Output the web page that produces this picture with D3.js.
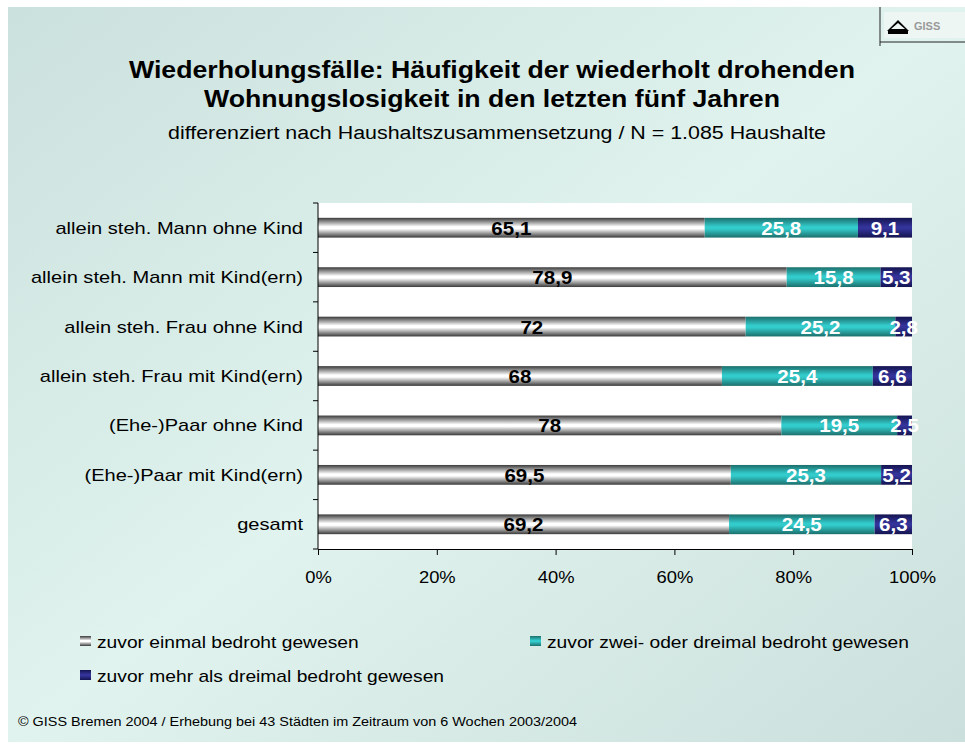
<!DOCTYPE html>
<html>
<head>
<meta charset="utf-8">
<script src="https://cdn.jsdelivr.net/npm/d3@7"></script>
<style>
  body { margin: 0; background: #fff; }
  svg { display: block; font-family: "Liberation Sans", Arial, sans-serif; }
</style>
</head>
<body>
<svg width="965" height="749"></svg>
<script>
// data, top to bottom as in the chart
var categories = ["allein steh. Mann ohne Kind", "allein steh. Mann mit Kind(ern)",
  "allein steh. Frau ohne Kind", "allein steh. Frau mit Kind(ern)",
  "(Ehe-)Paar ohne Kind", "(Ehe-)Paar mit Kind(ern)", "gesamt"];
var einmal = [65.1, 78.9, 72, 68, 78, 69.5, 69.2];
var zweiDrei = [25.8, 15.8, 25.2, 25.4, 19.5, 25.3, 24.5];
var mehr = [9.1, 5.3, 2.8, 6.6, 2.5, 5.2, 6.3];
var seriesNames = ["zuvor einmal bedroht gewesen", "zuvor zwei- oder dreimal bedroht gewesen",
  "zuvor mehr als dreimal bedroht gewesen"];
var xTicks = [0, 20, 40, 60, 80, 100];

var svg = d3.select("svg");
var defs = svg.append("defs");

// the original text is a bit wider than the font, stretch it
function stretch(sel, k) {
  sel.each(function() {
    var w = this.getComputedTextLength();
    d3.select(this).attr("textLength", w * k).attr("lengthAdjust", "spacingAndGlyphs");
  });
}

// background gradient
var bg = defs.append("linearGradient").attr("id", "bg")
  .attr("x1", "0%").attr("y1", "0%").attr("x2", "100%").attr("y2", "100%");
bg.append("stop").attr("offset", "0%").attr("stop-color", "#cbe1dd");
bg.append("stop").attr("offset", "50%").attr("stop-color", "#e0f3ee");
bg.append("stop").attr("offset", "100%").attr("stop-color", "#cbdfdc");

// bar gradients (vertical banding)
function barGrad(id, edge, mid) {
  var g = defs.append("linearGradient").attr("id", id)
    .attr("x1", "0").attr("y1", "0").attr("x2", "0").attr("y2", "1");
  g.append("stop").attr("offset", "0%").attr("stop-color", edge);
  g.append("stop").attr("offset", "45%").attr("stop-color", mid);
  g.append("stop").attr("offset", "55%").attr("stop-color", mid);
  g.append("stop").attr("offset", "100%").attr("stop-color", edge);
}
barGrad("g0", "#3a3a3a", "#ffffff");
barGrad("g1", "#1c6f6c", "#33cccc");
barGrad("g2", "#141450", "#33339a");
var fills = ["url(#g0)", "url(#g1)", "url(#g2)"];
var labelColors = ["#000", "#fff", "#fff"];

svg.append("rect").attr("x", 8).attr("y", 7).attr("width", 957).attr("height", 735)
  .attr("fill", "url(#bg)");

// logo
svg.append("line").attr("x1", 880).attr("x2", 965).attr("y1", 42).attr("y2", 42).attr("stroke", "#222");
svg.append("line").attr("x1", 880).attr("x2", 880).attr("y1", 7).attr("y2", 46).attr("stroke", "#222");
svg.append("rect").attr("x", 884).attr("y", 12).attr("width", 81).attr("height", 26).attr("fill", "#eef6f4");
svg.append("path").attr("d", "M887,31 L898,20 L909,31 Z M891,29 L898,23 L905,29 Z")
  .attr("fill", "#000").attr("fill-rule", "evenodd");
svg.append("rect").attr("x", 888).attr("y", 31).attr("width", 20).attr("height", 3).attr("fill", "#000");
svg.append("text").attr("x", 914).attr("y", 30).attr("font-size", 11).attr("font-weight", "bold")
  .attr("fill", "#999").text("GISS");

// titles
svg.append("text").attr("x", 492).attr("y", 78).attr("text-anchor", "middle")
  .attr("font-size", 23).attr("font-weight", "bold")
  .attr("textLength", 726).attr("lengthAdjust", "spacingAndGlyphs")
  .text("Wiederholungsfälle: Häufigkeit der wiederholt drohenden");
svg.append("text").attr("x", 492).attr("y", 107).attr("text-anchor", "middle")
  .attr("font-size", 23).attr("font-weight", "bold")
  .attr("textLength", 576).attr("lengthAdjust", "spacingAndGlyphs")
  .text("Wohnungslosigkeit in den letzten fünf Jahren");
svg.append("text").attr("x", 497).attr("y", 139).attr("text-anchor", "middle")
  .attr("font-size", 18).attr("textLength", 658).attr("lengthAdjust", "spacingAndGlyphs")
  .text("differenziert nach Haushaltszusammensetzung / N = 1.085 Haushalte");

// plot area
var pLeft = 318, pRight = 912, pTop = 203, pBottom = 549;
var x = d3.scaleLinear().domain([0, 100]).range([pLeft, pRight]);
var y = d3.scaleBand().domain(categories).range([pTop, pBottom]).paddingInner(0.6).paddingOuter(0.3);

svg.append("rect").attr("x", pLeft).attr("y", pTop).attr("width", pRight - pLeft).attr("height", pBottom - pTop)
  .attr("fill", "#fff");

var rows = categories.map(function(c, i) {
  return {cat: c, vals: [einmal[i], zweiDrei[i], mehr[i]]};
});

rows.forEach(function(r) {
  var start = 0;
  r.vals.forEach(function(v, k) {
    var x0 = x(start), x1 = x(start + v);
    svg.append("rect").attr("x", x0).attr("y", y(r.cat)).attr("width", x1 - x0)
      .attr("height", y.bandwidth()).attr("fill", fills[k]);
    svg.append("text").attr("class", "val").attr("x", (x0 + x1) / 2).attr("y", y(r.cat) + y.bandwidth() / 2 + 7)
      .attr("text-anchor", "middle").attr("font-size", 19).attr("font-weight", "bold")
      .attr("fill", labelColors[k]).text(String(v).replace(".", ","));
    start += v;
  });
});
stretch(svg.selectAll(".val"), 1.08);

// y axis
var yStep = (pBottom - pTop) / categories.length;
svg.append("line").attr("x1", pLeft).attr("x2", pLeft).attr("y1", pTop).attr("y2", pBottom)
  .attr("stroke", "#000");
d3.range(categories.length + 1).forEach(function(i) {
  svg.append("line").attr("x1", pLeft - 5).attr("x2", pLeft)
    .attr("y1", pTop + i * yStep).attr("y2", pTop + i * yStep).attr("stroke", "#000");
});
svg.selectAll(".cat").data(categories).enter().append("text").attr("class", "cat")
  .attr("x", 303).attr("y", function(d) { return y(d) + y.bandwidth() / 2 + 6; })
  .attr("text-anchor", "end").attr("font-size", 17).text(function(d) { return d; });
stretch(svg.selectAll(".cat"), 1.18);

// x axis
var xAxis = svg.append("g").attr("transform", "translate(0," + pBottom + ")")
  .call(d3.axisBottom(x).tickValues(xTicks).tickSize(6).tickSizeOuter(0)
    .tickFormat(function(d) { return d + "%"; }));
xAxis.select(".domain").attr("stroke", "#000");
xAxis.selectAll(".tick line").attr("stroke", "#000");
xAxis.selectAll("text").attr("font-size", 17).attr("font-family", "Liberation Sans, Arial, sans-serif")
  .attr("fill", "#000").attr("y", 22).attr("dy", "0.71em");
stretch(xAxis.selectAll("text"), 1.08);

// legend
var legPos = [[80, 648], [530, 648], [80, 682]];
seriesNames.forEach(function(name, k) {
  svg.append("rect").attr("x", legPos[k][0]).attr("y", legPos[k][1] - 12).attr("width", 11).attr("height", 10)
    .attr("fill", fills[k]);
  svg.append("text").attr("class", "leg").attr("x", legPos[k][0] + 17).attr("y", legPos[k][1])
    .attr("font-size", 17).text(name);
});
stretch(svg.selectAll(".leg"), 1.13);

// footer
svg.append("text").attr("x", 18).attr("y", 726).attr("font-size", 13)
  .attr("textLength", 559).attr("lengthAdjust", "spacingAndGlyphs")
  .text("© GISS Bremen 2004 / Erhebung bei 43 Städten im Zeitraum von 6 Wochen 2003/2004");
</script>
</body>
</html>
